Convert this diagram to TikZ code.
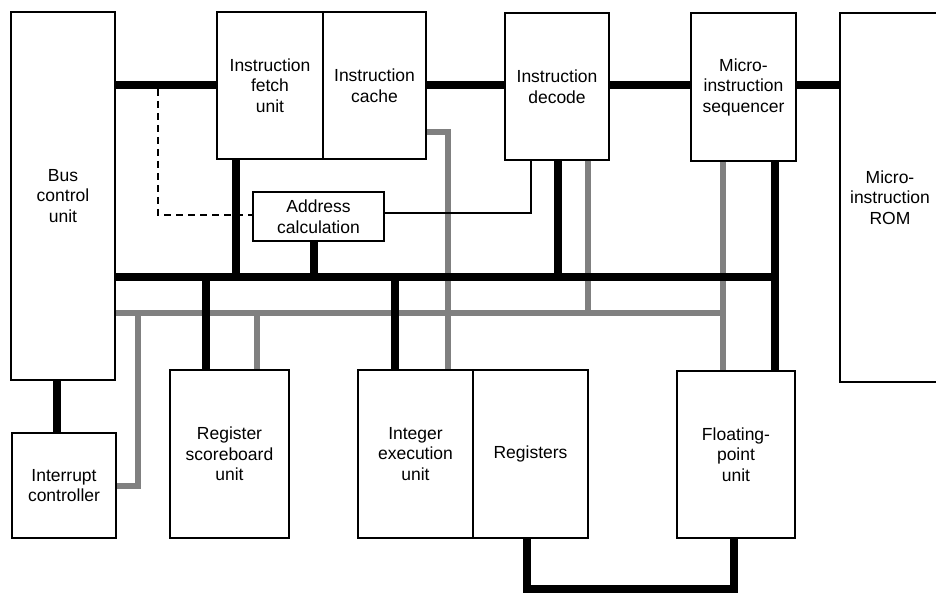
\documentclass[tikz,border=0pt]{standalone}
\usepackage{fontspec}
\setmainfont{Liberation Sans}
\begin{document}
\begin{tikzpicture}[x=1pt,y=-1pt,
  unit/.style={draw, line width=1.8pt, inner sep=0pt, align=center,
    font=\fontsize{17.5}{20.5}\selectfont},
  bus/.style={line width=8pt, line join=miter},
  ctl/.style={line width=6pt, draw=black!50, line join=miter},
  wire/.style={line width=2pt},
  dashwire/.style={line width=2.6pt, dash pattern=on 7pt off 5pt}]
\useasboundingbox (0,0) rectangle (936,593);

% functional units
\node[unit, minimum width=104pt, minimum height=368pt] (bcu) at (63,196) {Bus\\control\\unit};
\node[unit, minimum width=104pt, minimum height=105pt] (intc) at (64,485.5) {Interrupt\\controller};
\node[unit, minimum width=106pt, minimum height=147pt] (ifu) at (270,85.5) {Instruction\\fetch\\unit};
\node[unit, minimum width=103pt, minimum height=147pt] (icache) at (374.5,85.5) {Instruction\\cache};
\node[unit, minimum width=104pt, minimum height=147pt] (idec) at (557,86.5) {Instruction\\decode};
\node[unit, minimum width=105pt, minimum height=148pt] (seq) at (743.5,87) {Micro-\\instruction\\sequencer};
\node[unit, minimum width=100pt, minimum height=369pt] (rom) at (890,197.5) {Micro-\\instruction\\ROM};
\node[unit, minimum width=131pt, minimum height=49pt] (addr) at (318.5,216.5) {Address\\calculation};
\node[unit, minimum width=119pt, minimum height=168pt] (rsu) at (229.5,454) {Register\\scoreboard\\unit};
\node[unit, minimum width=115pt, minimum height=168pt] (ieu) at (415.5,454) {Integer\\execution\\unit};
\node[unit, minimum width=115pt, minimum height=168pt] (regs) at (530.5,454) {Registers};
\node[unit, minimum width=118pt, minimum height=167pt] (fpu) at (736,454.5) {Floating-\\point\\unit};

% bus levels and tap points
\coordinate (ytop) at (0,85);
\coordinate (ymid) at (0,277);
\coordinate (yctl) at (0,313);
\coordinate (ybot) at (0,589);
\coordinate (xseq) at (775,0);
\coordinate (xfpc) at (723,0);
\coordinate (xdc) at (588,0);
\coordinate (xcc) at (448,0);
\coordinate (xintc) at (138,0);
\coordinate (xrsc) at (257,0);
\coordinate (dashtop) at (158,89);

% control lines (under the buses)
\draw[ctl] (bcu.east |- yctl) -- (xfpc |- yctl);
\draw[ctl] (xfpc |- seq.south) -- (xfpc |- fpu.north);
\draw[ctl] (icache.east |- 0,132) -| (xcc |- ieu.north);
\draw[ctl] (xdc |- idec.south) -- (xdc |- yctl);
\draw[ctl] (xintc |- yctl) |- (intc.east);
\draw[ctl] (xrsc |- yctl) -- (xrsc |- rsu.north);

% upper bus
\draw[bus] (bcu.east |- ytop) -- (ifu.west |- ytop);
\draw[bus] (icache.east |- ytop) -- (idec.west |- ytop);
\draw[bus] (idec.east |- ytop) -- (seq.west |- ytop);
\draw[bus] (seq.east |- ytop) -- (rom.west |- ytop);

% main internal bus
\draw[bus] (bcu.east |- ymid) -- (xseq |- ymid);
\draw[bus] (xseq |- seq.south) -- (xseq |- fpu.north);
\draw[bus] ([xshift=-34pt]ifu.south) -- ([xshift=-34pt]ifu.south |- ymid);
\draw[bus] ([xshift=-4.5pt]addr.south) -- ([xshift=-4.5pt]addr.south |- ymid);
\draw[bus] ([xshift=1pt]idec.south) -- ([xshift=1pt]idec.south |- ymid);
\draw[bus] ([xshift=-23.5pt]rsu.north |- ymid) -- ([xshift=-23.5pt]rsu.north);
\draw[bus] ([xshift=-20.5pt]ieu.north |- ymid) -- ([xshift=-20.5pt]ieu.north);
\draw[bus] ([xshift=-6pt]bcu.south) -- ([xshift=-6pt]bcu.south |- intc.north);

% register file to floating-point unit
\draw[bus] ([xshift=-3.5pt]regs.south) -- ([xshift=-3.5pt]regs.south |- ybot)
  -| ([xshift=-2pt]fpu.south);

% address calculation links
\draw[wire] ([yshift=3.5pt]addr.east) -| ([xshift=-26pt]idec.south);
\draw[dashwire] (dashtop) |- ([yshift=1.5pt]addr.west);
\end{tikzpicture}
\end{document}
